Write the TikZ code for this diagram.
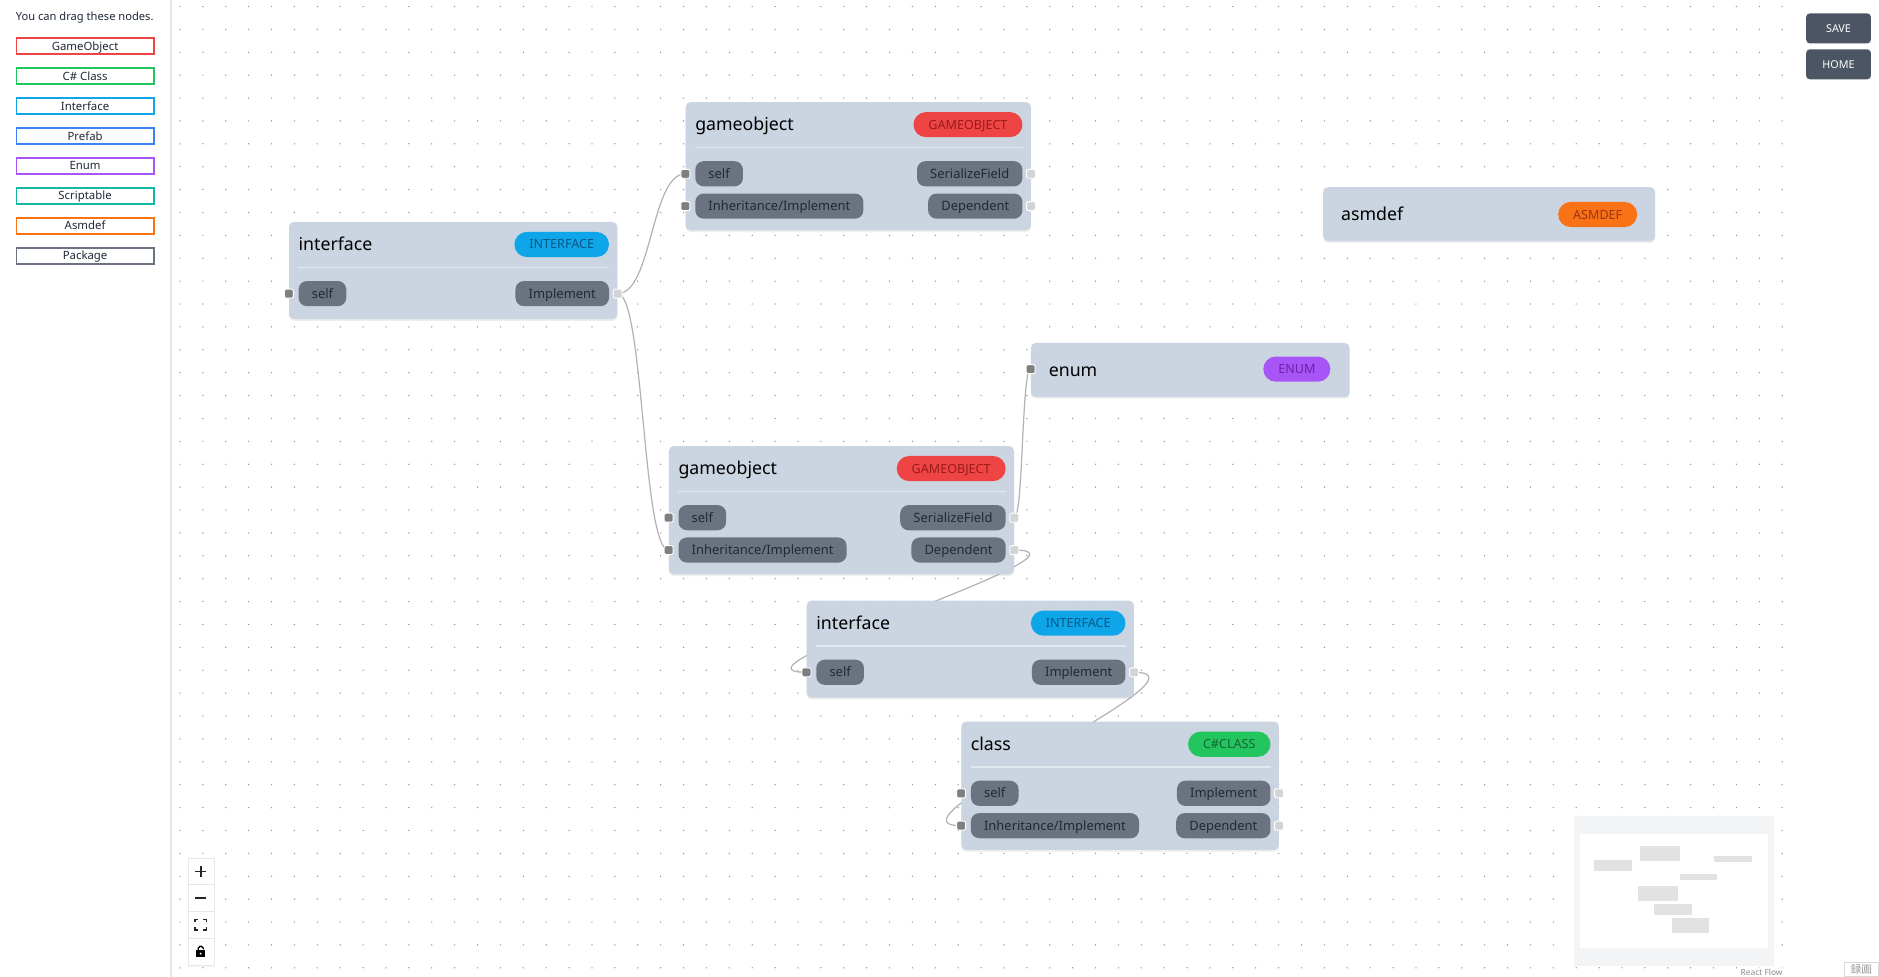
\documentclass[tikz,border=0pt]{standalone}
\usepackage{fontspec}
\setmainfont{Noto Sans}
\newfontfamily\cjk{Noto Sans CJK JP}
\usetikzlibrary{chains,positioning,shadows}
\definecolor{ink}{HTML}{1F2937}
\definecolor{cardfill}{HTML}{CBD5E1}
\definecolor{portfill}{HTML}{6B7280}
\definecolor{seprule}{HTML}{E2E8F0}
\definecolor{edgegray}{HTML}{B1B1B7}
\definecolor{dotgray}{HTML}{91919A}
\definecolor{handledark}{HTML}{7F7F7F}
\definecolor{handlelight}{HTML}{D4D4D4}
\definecolor{btnfill}{HTML}{4B5563}
\definecolor{sideline}{HTML}{E5E7EB}
\definecolor{mapframe}{HTML}{F3F4F5}
\definecolor{mapnode}{HTML}{E2E2E2}
\definecolor{red}{HTML}{EF4444}      \definecolor{redtext}{HTML}{991B1B}
\definecolor{green}{HTML}{22C55E}    \definecolor{greentext}{HTML}{166534}
\definecolor{sky}{HTML}{0EA5E9}      \definecolor{skytext}{HTML}{075985}
\definecolor{blue}{HTML}{3B82F6}
\definecolor{purple}{HTML}{A855F7}   \definecolor{purpletext}{HTML}{6B21A8}
\definecolor{teal}{HTML}{14B8A6}
\definecolor{orange}{HTML}{F97316}   \definecolor{orangetext}{HTML}{9A3412}
\definecolor{slate}{HTML}{6B7280}
\pgfdeclarelayer{paper}
\pgfdeclarelayer{grid}
\pgfdeclarelayer{edges}
\pgfsetlayers{paper,grid,edges,main}
\tikzset{card/.style={
    fill=cardfill,
    rounded corners=4pt,
    minimum width=#1,
    anchor=north west,
    inner sep=0pt,
    drop shadow={shadow xshift=0pt,shadow yshift=-1.5pt,opacity=0.14}
  },
  card/.default=288pt}
\tikzset{title/.style={font=\fontsize{14.8}{17}\selectfont,text=black,inner sep=0pt,text height=11pt,text depth=0.5pt}}
\tikzset{badge/.style={
    fill=#1,
    text=#1text,
    rounded corners=10.5pt,
    minimum height=21pt,
    inner xsep=12.5pt,
    inner ysep=0pt,
    text height=7.5pt,
    text depth=0pt,
    font=\fontsize{10.5}{12}\selectfont
  }}
\tikzset{port/.style={
    fill=portfill,
    text=ink,
    rounded corners=7pt,
    minimum height=21pt,
    inner xsep=11pt,
    inner ysep=0pt,
    text height=8.2pt,
    text depth=0.6pt,
    font=\fontsize{10.8}{12}\selectfont
  }}
\tikzset{inlet/.style={draw=white,line width=0.8pt,fill=handledark,minimum size=7.5pt,inner sep=0pt,rounded corners=1.2pt},
  outlet/.style={inlet,fill=handlelight}}
\tikzset{sep/.style={draw=seprule,line width=1.2pt},
  edge/.style={draw=edgegray,line width=1pt}}
\tikzset{legend/.style={
    draw=#1,
    line width=1.4pt,
    fill=white,
    minimum width=114.6pt,
    minimum height=13.6pt,
    inner sep=0pt,
    text height=7pt,
    text depth=0.3pt,
    text=ink,
    font=\fontsize{9.5}{11}\selectfont,
    on chain=legend
  }}
\tikzset{button/.style={fill=btnfill,text=white,rounded corners=3pt,minimum width=54pt,minimum height=25pt,inner sep=0pt,font=\fontsize{9}{10}\selectfont}}

\begin{document}
\begin{tikzpicture}[x=1pt,y=-1pt]
  \useasboundingbox (0,0) rectangle (1568,815);

  % canvas dots
  \begin{pgfonlayer}{paper}
    \fill [white] (0,0) rectangle (1568,815);
  \end{pgfonlayer}
  \begin{pgfonlayer}{grid}
    \foreach \i in {0,...,70}
      \foreach \j in {0,...,42}
        \fill [dotgray] (150.2+19.1*\i,5.4+19.1*\j) circle (0.6pt);
  \end{pgfonlayer}

  % sidebar
  \draw [sideline,line width=1.5pt] (143,0) -- (143,815);
  \node (Hint) [anchor=west,inner sep=0pt,text=ink,font=\fontsize{9.3}{11}\selectfont] at (13,15) {You can drag these nodes.};
  \begin{scope}[start chain=legend going below,node distance=10pt]
    \node (LegendGameObject) [legend=red] at (71,38.5) {GameObject};
    \node (LegendClass)      [legend=green]            {C\# Class};
    \node (LegendInterface)  [legend=sky]              {Interface};
    \node (LegendPrefab)     [legend=blue]             {Prefab};
    \node (LegendEnum)       [legend=purple]           {Enum};
    \node (LegendScriptable) [legend=teal]             {Scriptable};
    \node (LegendAsmdef)     [legend=orange]           {Asmdef};
    \node (LegendPackage)    [legend=slate]            {Package};
  \end{scope}

  % buttons
  \node (Save) [button,anchor=north west] at (1507,11) {SAVE};
  \node (Home) [button,anchor=north west] at (1507,41) {HOME};

  % interface (top left)
  \node (IfaceA) [card=274pt,minimum height=81pt] at (241,185) {};
  \node (IfaceATitle) [title,right=8pt of IfaceA.north west,yshift=-19pt] {interface};
  \node (IfaceABadge) [badge=sky,left=7pt of IfaceA.north east,yshift=-19pt] {INTERFACE};
  \draw [sep] ([shift={(8,38)}]IfaceA.north west) -- ([shift={(-7,38)}]IfaceA.north east);
  \node (IfaceASelf) [port,right=8pt of IfaceA.north west,yshift=-60pt] {self};
  \node (IfaceAImpl) [port,left=7pt of IfaceA.north east,yshift=-60pt]  {Implement};
  \node (IfaceASelfIn) [inlet]  at (IfaceA.west|-IfaceASelf) {};
  \node (IfaceAOut)    [outlet] at (IfaceA.east|-IfaceAImpl) {};

  % gameobject (top)
  \node (GoTop) [card,minimum height=107pt] at (572,85) {};
  \node (GoTopTitle) [title,right=8pt of GoTop.north west,yshift=-19pt] {gameobject};
  \node (GoTopBadge) [badge=red,left=7pt of GoTop.north east,yshift=-19pt] {GAMEOBJECT};
  \draw [sep] ([shift={(8,38)}]GoTop.north west) -- ([shift={(-7,38)}]GoTop.north east);
  \node (GoTopSelf)  [port,right=8pt of GoTop.north west,yshift=-60pt] {self};
  \node (GoTopInh)   [port,right=8pt of GoTop.north west,yshift=-87pt] {Inheritance/Implement};
  \node (GoTopField) [port,left=7pt of GoTop.north east,yshift=-60pt]  {SerializeField};
  \node (GoTopDep)   [port,left=7pt of GoTop.north east,yshift=-87pt]  {Dependent};
  \node (GoTopSelfIn)   [inlet]  at (GoTop.west|-GoTopSelf) {};
  \node (GoTopInhIn)    [inlet]  at (GoTop.west|-GoTopInh) {};
  \node (GoTopFieldOut) [outlet] at (GoTop.east|-GoTopField) {};
  \node (GoTopDepOut)   [outlet] at (GoTop.east|-GoTopDep) {};

  % asmdef
  \node (Asmdef) [card=277pt,minimum height=45pt] at (1104,156) {};
  \node (AsmdefTitle) [title,right=15pt of Asmdef.north west,yshift=-23pt] {asmdef};
  \node (AsmdefBadge) [badge=orange,left=15pt of Asmdef.north east,yshift=-23pt] {ASMDEF};

  % enum
  \node (Enum) [card=266pt,minimum height=45pt] at (860,286) {};
  \node (EnumTitle) [title,right=15pt of Enum.north west,yshift=-23pt] {enum};
  \node (EnumBadge) [badge=purple,left=16pt of Enum.north east,yshift=-22pt] {ENUM};
  \node (EnumIn) [inlet] at (Enum.west|-EnumBadge) {};

  % gameobject (middle)
  \node (GoMid) [card,minimum height=107pt] at (558,372) {};
  \node (GoMidTitle) [title,right=8pt of GoMid.north west,yshift=-19pt] {gameobject};
  \node (GoMidBadge) [badge=red,left=7pt of GoMid.north east,yshift=-19pt] {GAMEOBJECT};
  \draw [sep] ([shift={(8,38)}]GoMid.north west) -- ([shift={(-7,38)}]GoMid.north east);
  \node (GoMidSelf)  [port,right=8pt of GoMid.north west,yshift=-60pt] {self};
  \node (GoMidInh)   [port,right=8pt of GoMid.north west,yshift=-87pt] {Inheritance/Implement};
  \node (GoMidField) [port,left=7pt of GoMid.north east,yshift=-60pt]  {SerializeField};
  \node (GoMidDep)   [port,left=7pt of GoMid.north east,yshift=-87pt]  {Dependent};
  \node (GoMidSelfIn)   [inlet]  at (GoMid.west|-GoMidSelf) {};
  \node (GoMidInhIn)    [inlet]  at (GoMid.west|-GoMidInh) {};
  \node (GoMidFieldOut) [outlet] at (GoMid.east|-GoMidField) {};
  \node (GoMidDepOut)   [outlet] at (GoMid.east|-GoMidDep) {};

  % interface (lower)
  \node (IfaceB) [card=273pt,minimum height=81pt] at (673,501) {};
  \node (IfaceBTitle) [title,right=8pt of IfaceB.north west,yshift=-19pt] {interface};
  \node (IfaceBBadge) [badge=sky,left=7pt of IfaceB.north east,yshift=-19pt] {INTERFACE};
  \draw [sep] ([shift={(8,38)}]IfaceB.north west) -- ([shift={(-7,38)}]IfaceB.north east);
  \node (IfaceBSelf) [port,right=8pt of IfaceB.north west,yshift=-60pt] {self};
  \node (IfaceBImpl) [port,left=7pt of IfaceB.north east,yshift=-60pt]  {Implement};
  \node (IfaceBSelfIn) [inlet]  at (IfaceB.west|-IfaceBSelf) {};
  \node (IfaceBOut)    [outlet] at (IfaceB.east|-IfaceBImpl) {};

  % class
  \node (Class) [card=265pt,minimum height=107pt] at (802,602) {};
  \node (ClassTitle) [title,right=8pt of Class.north west,yshift=-19pt] {class};
  \node (ClassBadge) [badge=green,left=7pt of Class.north east,yshift=-19pt] {C\#CLASS};
  \draw [sep] ([shift={(8,38)}]Class.north west) -- ([shift={(-7,38)}]Class.north east);
  \node (ClassSelf) [port,right=8pt of Class.north west,yshift=-60pt] {self};
  \node (ClassInh)  [port,right=8pt of Class.north west,yshift=-87pt] {Inheritance/Implement};
  \node (ClassImpl) [port,left=7pt of Class.north east,yshift=-60pt]  {Implement};
  \node (ClassDep)  [port,left=7pt of Class.north east,yshift=-87pt]  {Dependent};
  \node (ClassSelfIn)  [inlet]  at (Class.west|-ClassSelf) {};
  \node (ClassInhIn)   [inlet]  at (Class.west|-ClassInh) {};
  \node (ClassImplOut) [outlet] at (Class.east|-ClassImpl) {};
  \node (ClassDepOut)  [outlet] at (Class.east|-ClassDep) {};

  % connections
  \begin{pgfonlayer}{edges}
    \draw [edge] (IfaceAOut.center) .. controls +(29,0) and +(-29,0) .. (GoTopSelfIn.center);
    \draw [edge] (IfaceAOut.center) .. controls +(22,0) and +(-22,0) .. (GoMidInhIn.center);
    \draw [edge] (GoMidFieldOut.center) .. controls +(7.5,0) and +(-7.5,0) .. (EnumIn.center);
    \draw [edge] (GoMidDepOut.center) .. controls +(82,0) and +(-82,0) .. (IfaceBSelfIn.center);
    \draw [edge] (IfaceBOut.center) .. controls +(75,0) and +(-75,0) .. (ClassInhIn.center);
  \end{pgfonlayer}

  % view controls
  \node (Controls) [fill=white,draw=sideline,line width=0.6pt,anchor=north west,minimum width=22pt,minimum height=89.6pt,inner sep=0pt,
    drop shadow={shadow xshift=0pt,shadow yshift=-1pt,opacity=0.08}] at (156.6,715.7) {};
  \draw [sideline,line width=0.6pt] (156.6,738) -- (178.6,738) (156.6,760.5) -- (178.6,760.5) (156.6,783) -- (178.6,783);
  \draw [black!85,line width=1.3pt] (162.7,727.4) -- (172.3,727.4) (167.5,722.6) -- (167.5,732.2);
  \draw [black!85,line width=1.3pt] (162.7,749.2) -- (172.3,749.2);
  \draw [black!85,line width=1.3pt]
    (162.8,769.6) |- (165.2,767.2) (169.8,767.2) -| (172.2,769.6)
    (172.2,773.8) |- (169.8,776.2) (165.2,776.2) -| (162.8,773.8);
  \fill [black] (163.6,792.6) rectangle (171.3,799);
  \fill [white] (167.45,795.8) circle (0.9pt);
  \draw [black,line width=1.1pt,rounded corners=1.6pt] (165.4,792.6) -- (165.4,789.6) -- (169.6,789.6) -- (169.6,790.9);

  % minimap
  \fill [mapframe] (1313.5,681) rectangle (1480,806);
  \fill [white] (1318.5,696) rectangle (1475.4,791);
  \fill [mapnode] (1330,717.6) rectangle (1362,726.8);
  \fill [mapnode] (1368.6,706) rectangle (1402,718.5);
  \fill [mapnode] (1430,714.3) rectangle (1462,719.3);
  \fill [mapnode] (1402,729.4) rectangle (1433,734.4);
  \fill [mapnode] (1367,739.3) rectangle (1400,751.9);
  \fill [mapnode] (1380,754.4) rectangle (1412,763.6);
  \fill [mapnode] (1395,766) rectangle (1426,778.6);
  \node (Attribution) [fill=white,fill opacity=0.6,text opacity=1,text=black!45,inner sep=1.2pt,font=\fontsize{7}{8}\selectfont] at (1470,811) {React Flow};

  % cut-off box at the corner
  \begin{scope}
    \clip (1530,795) rectangle (1568,815);
    \node (Record) [draw=black!15,fill=white,anchor=north west,inner xsep=5pt,inner ysep=2pt,text=black!40,font=\cjk\fontsize{9}{11}\selectfont] at (1539,802.5) {録画};
  \end{scope}
\end{tikzpicture}
\end{document}
